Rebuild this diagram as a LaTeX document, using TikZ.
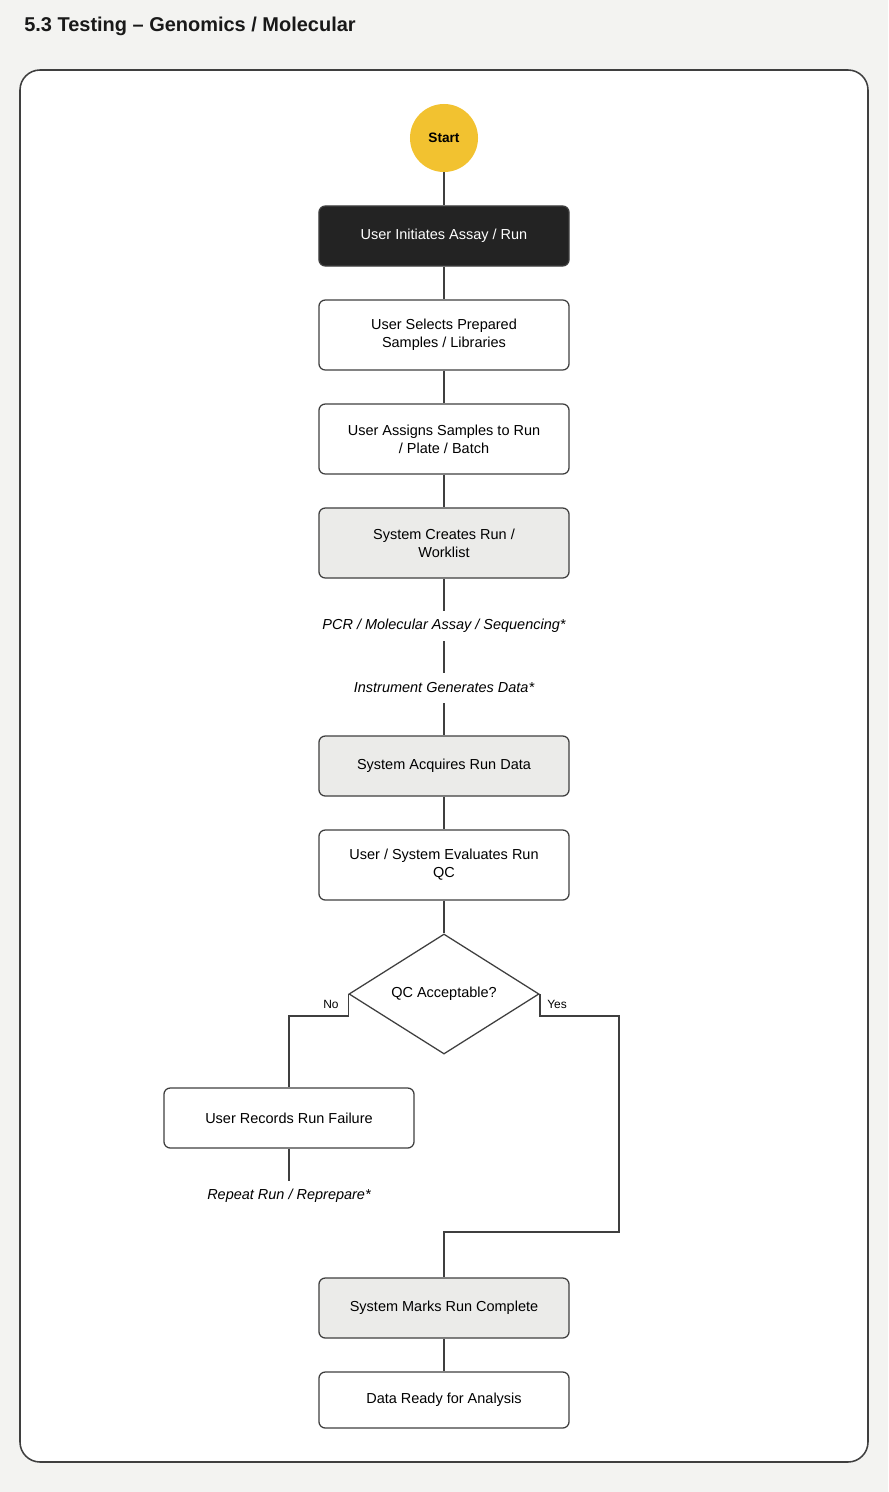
\documentclass[tikz,border=0pt]{standalone}
\usepackage{fontspec}
\setmainfont{Liberation Sans}
\usetikzlibrary{shapes.geometric}

\definecolor{pagebg}{HTML}{F3F3F1}
\definecolor{linegray}{HTML}{3F3F3F}
\definecolor{darkfill}{HTML}{232323}
\definecolor{softgray}{HTML}{EBEBE9}
\definecolor{startyellow}{HTML}{F2C230}

\newcommand{\bodyfont}{\fontsize{10.3}{12.8}\selectfont}

\begin{document}
\begin{tikzpicture}[x=0.025cm, y=-0.025cm,
    box/.style={draw=linegray, line width=0.9pt, rounded corners=4.5pt, fill=white,
      minimum width=6.25cm, minimum height=1.5cm, align=center, font=\bodyfont, inner sep=0pt},
    tallbox/.style={box, minimum height=1.75cm},
    greybox/.style={fill=softgray},
    darkbox/.style={fill=darkfill, text=white},
    steplabel/.style={font=\bodyfont\itshape, minimum height=0.75cm, inner sep=0pt},
    branchlabel/.style={font=\fontsize{8.5}{10}\selectfont, inner sep=0pt},
    conn/.style={draw=linegray, line width=1.2pt}]

  \fill[pagebg] (0,0) rectangle (888,1492);
  \useasboundingbox (0,0) rectangle (888,1492);
  \node[anchor=west, inner sep=0pt, font=\fontsize{14.2}{17}\selectfont\bfseries, text=black!90] (title) at (24,26) {5.3 Testing – Genomics / Molecular};
  \draw[draw=linegray, line width=1.1pt, fill=white, rounded corners=0.5cm] (20,70) rectangle (868,1462);

  \node[circle, fill=startyellow, minimum size=1.7cm, inner sep=0pt, font=\fontsize{9.7}{11}\selectfont\bfseries] (start) at (444,138) {Start};
  \node[box, darkbox] (init) at (444,236) {User Initiates Assay / Run};
  \node[tallbox] (select) at (444,335) {User Selects Prepared\\Samples / Libraries};
  \node[tallbox] (assign) at (444,439) {User Assigns Samples to Run\\/ Plate / Batch};
  \node[tallbox, greybox] (create) at (444,543) {System Creates Run /\\Worklist};
  \node[steplabel] (pcr) at (444,626) {PCR / Molecular Assay / Sequencing*};
  \node[steplabel] (gen) at (444,688) {Instrument Generates Data*};
  \node[box, greybox] (acquire) at (444,766) {System Acquires Run Data};
  \node[tallbox] (evaluate) at (444,865) {User / System Evaluates Run\\QC};
  \node[diamond, draw=linegray, line width=0.9pt, fill=white, minimum width=4.75cm, minimum height=3cm,
    inner sep=0pt, font=\bodyfont] (qc) at (444,994) {QC Acceptable?};
  \node[box] (fail) at (289,1118) {User Records Run Failure};
  \node[steplabel] (repeat) at (289,1196) {Repeat Run / Reprepare*};
  \node[box, greybox] (mark) at (444,1308) {System Marks Run Complete};
  \node[box, minimum height=1.4cm] (ready) at (444,1400) {Data Ready for Analysis};
  \coordinate (yesturn) at (619,1232);

  \draw[conn] (start) -- (init);
  \draw[conn] (init) -- (select);
  \draw[conn] (select) -- (assign);
  \draw[conn] (assign) -- (create);
  \draw[conn] (create) -- (pcr);
  \draw[conn] (pcr) -- (gen);
  \draw[conn] (gen) -- (acquire);
  \draw[conn] (acquire) -- (evaluate);
  \draw[conn] (evaluate) -- (qc);
  \draw[conn] (qc.west) -- ++(0,22) -| (fail);
  \draw[conn] (fail) -- (repeat);
  \draw[conn] (qc.east) -- ++(0,22) -| (yesturn) -| (mark);
  \draw[conn] (mark) -- (ready);

  \node[branchlabel] (nolab) at (331,1004) {No};
  \node[branchlabel] (yeslab) at (557,1004) {Yes};
\end{tikzpicture}
\end{document}
